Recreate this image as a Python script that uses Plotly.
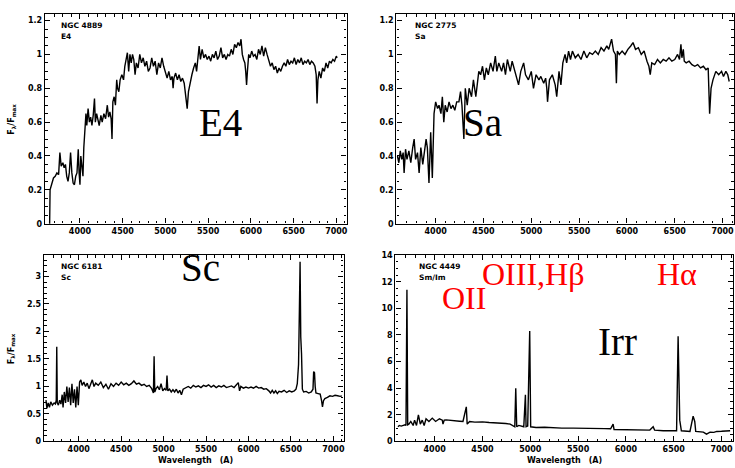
import plotly.graph_objects as go

# ---------------- data ----------------
e4_wave = [3640, 3645, 3650, 3670, 3690, 3710, 3730, 3750, 3765, 3780, 3800, 3815, 3830, 3845, 3860, 3875,
           3890, 3905, 3920, 3935, 3950, 3965, 3980, 3990, 4000, 4010, 4020, 4035, 4045, 4055, 4070, 4080,
           4095, 4110, 4125, 4140, 4155, 4170, 4180, 4195, 4210, 4225, 4245, 4260, 4280, 4300, 4320, 4335,
           4350, 4365, 4375, 4385, 4400, 4415, 4430, 4440, 4455, 4470, 4490, 4510, 4525, 4540, 4555, 4570,
           4585, 4600, 4615, 4630, 4645, 4660, 4680, 4700, 4720, 4740, 4760, 4780, 4800, 4820, 4840, 4860,
           4880, 4900, 4920, 4940, 4960, 4980, 5000, 5020, 5040, 5060, 5080, 5090, 5100, 5120, 5140, 5160,
           5180, 5200, 5220, 5240, 5255, 5270, 5290, 5310, 5330, 5350, 5365, 5380, 5395, 5410, 5430, 5450,
           5470, 5490, 5510, 5530, 5550, 5570, 5590, 5610, 5630, 5650, 5670, 5690, 5710, 5730, 5750, 5770,
           5790, 5810, 5830, 5850, 5870, 5885, 5900, 5915, 5930, 5940, 5950, 5960, 5975, 5990, 6010, 6030,
           6050, 6070, 6090, 6110, 6130, 6150, 6170, 6190, 6210, 6230, 6250, 6270, 6290, 6310, 6330, 6350,
           6370, 6390, 6410, 6430, 6450, 6470, 6490, 6510, 6530, 6550, 6570, 6590, 6610, 6630, 6650, 6670,
           6690, 6710, 6730, 6750, 6765, 6775, 6785, 6800, 6820, 6840, 6860, 6880, 6900, 6920, 6940, 6960,
           6980, 7000, 7010]
e4_flux = [0.0, 0.0, 0.2, 0.24, 0.27, 0.28, 0.3, 0.29, 0.42, 0.34, 0.36, 0.33, 0.35, 0.28, 0.25, 0.3,
           0.42, 0.3, 0.24, 0.23, 0.28, 0.3, 0.44, 0.3, 0.23, 0.4, 0.35, 0.28, 0.45, 0.55, 0.65, 0.58,
           0.68, 0.6, 0.63, 0.58, 0.64, 0.74, 0.6, 0.65, 0.62, 0.58, 0.64, 0.6, 0.65, 0.62, 0.7, 0.63,
           0.66, 0.62, 0.5, 0.72, 0.75, 0.7, 0.85, 0.8, 0.78, 0.85, 0.88, 0.85, 0.93, 0.98, 1.01, 0.9,
           1.0, 0.95, 1.0, 0.97, 0.88, 0.95, 0.92, 1.0, 0.95, 0.98, 0.93, 0.96, 0.9, 0.92, 0.98, 0.93,
           0.96, 0.88, 0.95, 0.92, 0.98, 0.93, 0.9, 0.86, 0.9, 0.85, 0.87, 0.8, 0.86, 0.89, 0.85, 0.88,
           0.84, 0.86, 0.83, 0.76, 0.68, 0.78, 0.84, 0.88, 0.92, 0.95, 0.9, 1.0, 1.05, 0.97, 1.03, 0.98,
           1.0, 0.97, 0.99, 0.96, 1.0, 0.98, 1.02, 0.97, 0.99, 1.04, 0.98, 1.0, 0.97, 1.0, 0.99, 1.03,
           1.0, 1.06, 1.04, 1.07, 1.05, 1.09, 1.0, 0.97, 0.95, 0.9, 0.82, 0.9, 1.0, 0.98, 1.02, 0.99,
           1.0, 0.97, 1.03, 1.0, 1.05, 0.99, 1.04, 1.0, 0.97, 0.93, 0.95, 0.91, 0.93, 0.89, 0.92, 0.9,
           0.93, 0.95, 0.93, 0.97, 0.94, 0.96, 0.95, 0.98, 0.94, 0.97, 0.95, 0.98, 0.94, 0.96, 0.95, 0.97,
           0.94, 0.96, 0.95, 0.93, 0.88, 0.71, 0.85, 0.9, 0.86, 0.92, 0.9, 0.95, 0.92, 0.96, 0.95, 0.97,
           0.96, 0.99, 0.98]

sa_wave = [3600, 3615, 3630, 3645, 3660, 3670, 3685, 3700, 3720, 3740, 3760, 3775, 3790, 3810, 3827, 3845,
           3865, 3880, 3900, 3913, 3930, 3948, 3965, 3983, 4000, 4020, 4035, 4055, 4070, 4085, 4100, 4120,
           4140, 4160, 4180, 4200, 4220, 4243, 4260, 4275, 4295, 4310, 4330, 4350, 4375, 4395, 4420, 4451,
           4470, 4490, 4510, 4530, 4550, 4575, 4600, 4624, 4640, 4660, 4690, 4710, 4730, 4750, 4780, 4800,
           4830, 4850, 4867, 4890, 4920, 4940, 4970, 5000, 5023, 5050, 5080, 5100, 5130, 5150, 5162, 5170,
           5190, 5220, 5250, 5266, 5290, 5310, 5330, 5353, 5370, 5390, 5410, 5430, 5460, 5490, 5520, 5550,
           5580, 5610, 5640, 5670, 5700, 5730, 5760, 5790, 5810, 5825, 5840, 5860, 5880, 5890, 5900, 5920,
           5950, 5980, 6010, 6040, 6064, 6090, 6120, 6150, 6180, 6210, 6230, 6244, 6260, 6290, 6320, 6350,
           6380, 6410, 6440, 6470, 6500, 6530, 6550, 6565, 6575, 6590, 6600, 6620, 6650, 6680, 6710, 6740,
           6770, 6800, 6827, 6850, 6865, 6880, 6900, 6930, 6960, 6990, 7010, 7035, 7055, 7070]
sa_flux = [0.4, 0.36, 0.43, 0.38, 0.42, 0.3, 0.44, 0.38, 0.43, 0.36, 0.45, 0.5, 0.38, 0.42, 0.3, 0.45,
           0.35, 0.42, 0.5, 0.45, 0.24, 0.54, 0.27, 0.65, 0.72, 0.68, 0.7, 0.65, 0.75, 0.6, 0.7, 0.66,
           0.72, 0.68, 0.7, 0.67, 0.72, 0.72, 0.78, 0.7, 0.5, 0.8, 0.7, 0.8, 0.75, 0.85, 0.75, 0.9,
           0.88, 0.93, 0.85, 0.92, 0.88, 0.95, 0.9, 0.99, 0.9, 0.95, 0.9, 0.95, 0.88, 0.97, 0.9, 0.96,
           0.9, 0.86, 0.82, 0.9, 0.95, 0.88, 0.85, 0.9, 0.8, 0.88, 0.85, 0.87, 0.83, 0.86, 0.8, 0.72,
           0.85, 0.88, 0.82, 0.75, 0.9, 0.82, 0.95, 1.0, 0.95, 1.02, 0.97, 1.02, 0.98, 1.0, 0.97, 1.02,
           0.98, 1.01, 1.0, 1.02, 1.0, 1.04, 1.02, 1.05, 1.03, 1.06, 1.09, 1.02, 1.0, 0.83, 1.02, 1.0,
           1.02, 1.0, 1.03, 1.05, 1.07, 1.03, 1.04, 1.0, 1.02, 0.96, 0.93, 0.88, 0.95, 0.94, 0.97, 0.95,
           0.97, 0.96, 0.98, 0.96, 0.97, 1.0, 0.97, 1.06, 0.98, 1.03, 0.96, 0.95, 0.96, 0.94, 0.93, 0.94,
           0.92, 0.93, 0.91, 0.92, 0.65, 0.8, 0.85, 0.9, 0.88, 0.9, 0.87, 0.9, 0.88, 0.84]

sc_wave = [3614, 3625, 3640, 3655, 3670, 3690, 3710, 3725, 3735, 3741, 3747, 3760, 3775, 3790, 3805, 3815,
           3830, 3845, 3860, 3875, 3890, 3905, 3920, 3935, 3950, 3965, 3980, 3995, 4010, 4025, 4040, 4060,
           4080, 4100, 4120, 4140, 4160, 4180, 4200, 4230, 4260, 4290, 4320, 4350, 4380, 4410, 4440, 4470,
           4500, 4530, 4560, 4590, 4620, 4650, 4680, 4710, 4740, 4770, 4800, 4830, 4860, 4880, 4888, 4896,
           4910, 4930, 4950, 4970, 4990, 5010, 5030, 5040, 5050, 5070, 5090, 5110, 5130, 5150, 5170, 5190,
           5210, 5230, 5260, 5290, 5320, 5350, 5380, 5410, 5440, 5470, 5500, 5530, 5560, 5590, 5620, 5650,
           5680, 5710, 5740, 5770, 5800, 5830, 5860, 5880, 5895, 5910, 5940, 5970, 6000, 6030, 6060, 6090,
           6120, 6150, 6180, 6210, 6240, 6260, 6280, 6300, 6320, 6340, 6360, 6390, 6420, 6450, 6480, 6510,
           6540, 6560, 6575, 6590, 6600, 6608, 6616, 6625, 6635, 6650, 6680, 6710, 6740, 6760, 6768, 6778,
           6786, 6795, 6820, 6845, 6860, 6872, 6884, 6900, 6930, 6960, 6990, 7020, 7050, 7080, 7100]
sc_flux = [0.75, 0.6, 0.7, 0.62, 0.72, 0.66, 0.7, 0.68, 0.75, 1.72, 0.7, 0.66, 0.75, 0.68, 0.85, 0.62,
           0.9, 0.7, 1.0, 0.72, 0.98, 0.66, 1.05, 0.7, 0.95, 0.62, 1.0, 0.66, 1.08, 1.12, 1.02, 1.08,
           1.0, 1.06, 0.96, 1.04, 1.12, 1.0, 1.06, 1.02, 1.08, 0.98, 1.04, 0.95, 1.05, 1.0, 1.06, 1.02,
           1.08, 1.03, 1.06, 1.02, 1.05, 1.1, 1.04, 1.06, 1.02, 1.04, 1.0, 1.02, 0.96, 0.88, 1.55, 0.9,
           0.96, 1.0, 0.94, 1.05, 0.92, 0.96, 0.93, 1.2, 0.92, 0.95, 0.9, 0.94, 0.9, 0.95, 0.88, 0.93,
           0.85, 0.95, 0.98, 1.0, 0.97, 1.02, 0.99, 1.01, 0.98, 1.02, 1.0, 1.03, 0.99, 1.02, 0.98, 1.01,
           0.99, 1.02, 0.98, 1.0, 1.01, 0.98, 1.03, 1.07, 0.92, 1.0, 0.97, 0.99, 0.97, 0.99, 0.97, 1.0,
           0.97, 0.98, 0.95, 0.96, 0.92, 0.88, 0.93, 0.88, 0.92, 0.87, 0.91, 0.9, 0.93, 0.89, 0.92, 0.9,
           0.92, 0.95, 1.05, 1.4, 2.4, 3.27, 1.9, 1.6, 0.95, 0.9, 0.91, 0.88, 0.9, 0.95, 1.27, 1.25,
           1.0, 0.88, 0.87, 0.86, 0.75, 0.63, 0.74, 0.78, 0.8, 0.83, 0.82, 0.84, 0.83, 0.82, 0.83]

irr_wave = [3616, 3630, 3650, 3670, 3690, 3700, 3710, 3718, 3730, 3750, 3775, 3790, 3810, 3830, 3850, 3870,
            3890, 3910, 3940, 3975, 4010, 4050, 4080, 4087, 4100, 4120, 4160, 4190, 4230, 4260, 4296, 4331,
            4340, 4365, 4420, 4500, 4570, 4640, 4700, 4744, 4790, 4820, 4838, 4848, 4858, 4880, 4932, 4949,
            4956, 4973, 4994, 5004, 5060, 5150, 5250, 5330, 5450, 5560, 5680, 5780, 5840, 5866, 5876, 6000,
            6100, 6180, 6250, 6285, 6300, 6390, 6460, 6530, 6546, 6553, 6563, 6580, 6620, 6670, 6703, 6720,
            6730, 6770, 6810, 6843, 6880, 6920, 6950, 7000, 7050, 7090]
irr_flux = [1.1, 1.2, 1.15, 1.2, 1.25, 1.2, 11.4, 1.25, 1.3, 1.5, 1.2, 1.6, 1.2, 2.0, 1.3, 1.6,
            1.2, 1.7, 1.5, 1.75, 1.5, 1.7, 1.6, 1.3, 1.6, 1.62, 1.58, 1.6, 1.55, 1.52, 1.5, 2.6,
            1.3, 1.5, 1.45, 1.47, 1.42, 1.4, 1.38, 1.35, 1.3, 1.2, 1.1, 4.0, 1.1, 1.2, 1.1, 3.5,
            1.1, 1.15, 8.3, 1.1, 1.05, 1.06, 1.02, 1.0, 1.0, 0.97, 0.95, 0.96, 0.95, 1.3, 0.9, 0.9,
            0.88, 0.85, 0.85, 1.1, 0.85, 0.8, 0.82, 0.8, 7.9, 4.0, 1.6, 0.8, 0.78, 0.75, 1.9, 1.5,
            0.75, 0.72, 0.7, 0.55, 0.7, 0.68, 0.75, 0.76, 0.78, 0.8]

galaxy_names = ["NGC 4889", "NGC 2775", "NGC 6181", "NGC 4449"]
galaxy_types = ["E4", "Sa", "Sc", "Sm/Im"]
type_labels = ["E4", "Sa", "Sc", "Irr"]
line_labels = ["OII", "OIII,Hβ", "Hα"]
x_ticks = [4000, 4500, 5000, 5500, 6000, 6500, 7000]

W, H = 735, 468
def px(x):
    return x / W
def py(y):
    return 1 - y / H

fig = go.Figure()
series = [(e4_wave, e4_flux), (sa_wave, sa_flux), (sc_wave, sc_flux), (irr_wave, irr_flux)]
for i, (w, f) in enumerate(series):
    sfx = "" if i == 0 else str(i + 1)
    fig.add_trace(go.Scatter(x=w, y=f, mode="lines", xaxis="x" + sfx, yaxis="y" + sfx,
                             line=dict(color="black", width=1.4), showlegend=False,
                             hoverinfo="skip"))

tickfont = dict(family="DejaVu Sans", size=8, color="black", weight="bold")
common_x = dict(range=[3590, 7120], tickvals=x_ticks, ticks="inside", ticklen=5, tickwidth=1.2,
                showline=True, mirror="ticks", linecolor="black", linewidth=1.4, showgrid=False,
                zeroline=False, tickfont=tickfont, tickcolor="black",
                minor=dict(dtick=100, ticks="inside", ticklen=2.5, tickcolor="black", tickwidth=1, showgrid=False))

def yax(rng, dtick, mdtick, dom, anchor):
    return dict(range=rng, dtick=dtick, tick0=0, ticks="inside", ticklen=5, tickwidth=1.2,
                showline=True, mirror="ticks", linecolor="black", linewidth=1.4, showgrid=False,
                zeroline=False, tickfont=tickfont, tickcolor="black", domain=dom, anchor=anchor,
                minor=dict(dtick=mdtick, ticks="inside", ticklen=2.5, tickcolor="black", tickwidth=1, showgrid=False))

top_dom = [py(224), py(10)]
bot_dom = [py(446), py(256)]
fig.update_layout(
    width=W, height=H, margin=dict(l=0, r=0, t=0, b=0),
    paper_bgcolor="white", plot_bgcolor="white",
    xaxis=dict(common_x, domain=[px(45), px(347)], anchor="y"),
    xaxis2=dict(common_x, domain=[px(397), 1.0], anchor="y2"),
    xaxis3=dict(common_x, domain=[px(44), px(344)], anchor="y3"),
    xaxis4=dict(common_x, domain=[px(396), px(734)], anchor="y4"),
    yaxis=yax([0, 1.24], 0.2, 0.05, top_dom, "x"),
    yaxis2=yax([0, 1.24], 0.2, 0.05, top_dom, "x2"),
    yaxis3=yax([0, 3.39], 0.5, 0.1, bot_dom, "x3"),
    yaxis4=yax([0, 14], 2, 0.5, bot_dom, "x4"),
)

ann = []
small = dict(family="DejaVu Sans", size=7.5, color="black", weight="bold")
name_pos = [(59, 22), (414, 22), (59, 268), (418, 268)]
for (x, y), n, t in zip(name_pos, galaxy_names, galaxy_types):
    ann.append(dict(x=px(x), y=py(y), xref="paper", yref="paper", text=n, showarrow=False,
                    xanchor="left", yanchor="middle", font=small))
    ann.append(dict(x=px(x), y=py(y + 11), xref="paper", yref="paper", text=t, showarrow=False,
                    xanchor="left", yanchor="middle", font=small))

big = dict(family="Liberation Serif", size=39, color="black")
big_pos = [(221, 121), (483, 121), (201, 269), (618, 344)]
for (x, y), t in zip(big_pos, type_labels):
    ann.append(dict(x=px(x), y=py(y), xref="paper", yref="paper", text=t, showarrow=False,
                    xanchor="center", yanchor="middle", font=big))

red = dict(family="Liberation Serif", size=32, color="#ff0000")
red_pos = [(465, 300), (534, 275), (678, 275)]
for (x, y), t in zip(red_pos, line_labels):
    ann.append(dict(x=px(x), y=py(y), xref="paper", yref="paper", text=t, showarrow=False,
                    xanchor="center", yanchor="middle", font=red))

ylab = dict(family="DejaVu Sans", size=8, color="black", weight="bold")
for y in (117, 351):
    ann.append(dict(x=px(12), y=py(y), xref="paper", yref="paper",
                    text="F<sub>λ</sub>/F<sub>max</sub>", showarrow=False, textangle=-90,
                    xanchor="center", yanchor="middle", font=ylab))
for x in (196, 565):
    ann.append(dict(x=px(x), y=py(465), xref="paper", yref="paper",
                    text="Wavelength\u2002\u2002(A)", showarrow=False,
                    xanchor="center", yanchor="middle", font=ylab))
fig.update_layout(annotations=ann)

fig.write_html("out.html")
